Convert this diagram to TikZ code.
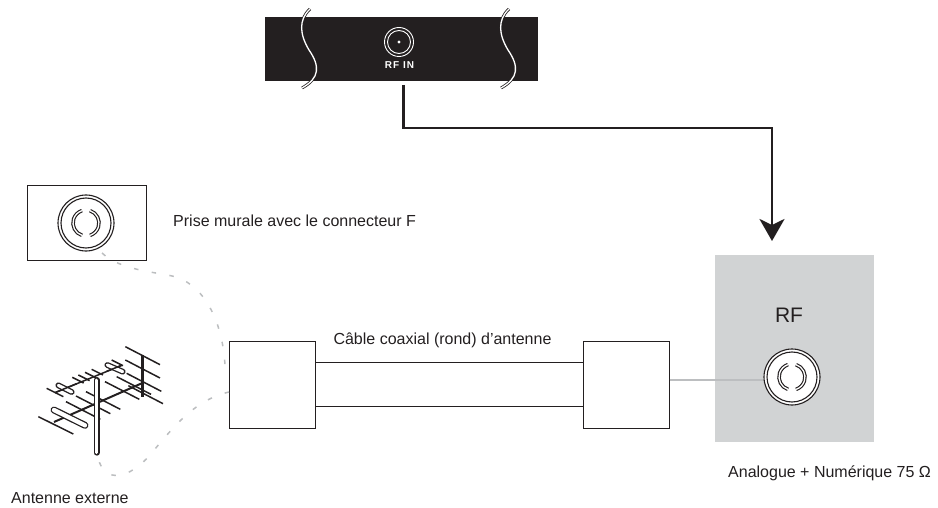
\documentclass[tikz,border=0pt]{standalone}
\usepackage{fontspec}
\setmainfont{Liberation Sans}
\usetikzlibrary{arrows.meta,calc}
\definecolor{panelgrey}{HTML}{D1D3D4}
\definecolor{wiregrey}{HTML}{BCBEC0}
\definecolor{boxblack}{HTML}{231F20}
\tikzset{
  lbl/.style={font=\fontsize{16}{18}\selectfont,inner sep=0pt,anchor=base west,text=boxblack},
  cablebox/.style={draw=boxblack,line width=1.1pt,fill=white,inner sep=0pt,anchor=north west,minimum width=85.5pt,minimum height=87pt},
  wirelink/.style={draw=wiregrey,line width=1.5pt,dash pattern=on 4.5pt off 13.5pt},
  ant/.style={draw=boxblack,line width=1.5pt,line cap=butt},
  thinline/.style={draw=boxblack,line width=1.05pt}
}
\newcommand{\jack}[2]{%
  \fill[white] (#1,#2) circle (28);
  \draw[boxblack,line width=1.1pt] (#1,#2) circle (28);
  \draw[boxblack,line width=1.1pt] (#1,#2) circle (25);
  \foreach \a/\b in {108/252,-72/72}{
    \draw[boxblack,line width=3.6pt,line cap=butt] ($(#1,#2)+(\a:13)$) arc[start angle=\a,end angle=\b,radius=13];
    \draw[white,line width=1.3pt,line cap=butt] ($(#1,#2)+(\a:13)$) arc[start angle=\a,end angle=\b,radius=13];
  }
}
\newcommand{\stadium}[6]{%
  \draw[boxblack,line width=#5pt,line cap=round] (#1,#2) -- (#3,#4);
  \draw[white,line width=#6pt,line cap=round] (#1,#2) -- (#3,#4);
}
\begin{document}
\begin{tikzpicture}[x=1pt,y=-1pt]
\useasboundingbox (0,0) rectangle (938,508);
% tuner panel
\node[fill=boxblack,inner sep=0pt,anchor=north west,minimum width=273pt,minimum height=64pt] (panel) at (265,17) {};
\foreach \x in {0,199}{
  \begin{scope}[xshift=\x pt]
  \draw[boxblack,line width=2.9pt] (310,9) .. controls (298,20) and (300,35) .. (309,50) .. controls (320,66) and (320,78) .. (302,88);
  \draw[white,line width=1.3pt] (310,9) .. controls (298,20) and (300,35) .. (309,50) .. controls (320,66) and (320,78) .. (302,88);
  \end{scope}
}
\draw[white,line width=.9pt] (399,42) circle (14.5);
\draw[white,line width=.9pt] (399,42) circle (11.5);
\fill[white] (399,42) circle (1.6);
\node[font=\bfseries\fontsize{10}{11}\selectfont\addfontfeature{LetterSpace=10},text=white,inner sep=0pt] (rfin) at (399.5,65) {RF IN};
\coordinate (rfstart) at (403.5,85);
% RF panel
\node[fill=panelgrey,inner sep=0pt,anchor=north west,minimum width=159pt,minimum height=187pt] (rfpanel) at (715,255) {};
\coordinate (rfend) at (772,241);
\draw[boxblack,line width=2.8pt,-{Stealth[length=22pt,width=25pt,inset=6pt]}] (rfstart) |- (772,128) -- (rfend);
\node[font=\fontsize{21}{24}\selectfont,text=boxblack,inner sep=0pt] (rflabel) at (789,315) {RF};
% cable
\node[cablebox] (cableL) at (229,341) {};
\node[cablebox] (cableR) at (583,341) {};
\draw[thinline] (cableL.east |- 0,362.7) -- (cableR.west |- 0,362.7);
\draw[thinline] (cableL.east |- 0,406.7) -- (cableR.west |- 0,406.7);
\node[font=\fontsize{16}{18}\selectfont,text=boxblack,inner sep=0pt] (cablelabel) at (442.5,340) {Câble coaxial (rond) d’antenne};
\coordinate (rfjack) at (764,380);
\draw[wiregrey,line width=1.5pt] (cableR.east |- rfjack) -- (rfjack);
\jack{792}{377}
% wall outlet
\node[draw=boxblack,line width=1.3pt,fill=white,inner sep=0pt,anchor=north west,minimum width=119pt,minimum height=75pt] (wall) at (27,185) {};
\jack{86}{223}
\node[lbl] (walllabel) at (173,226) {Prise murale avec le connecteur F};
% dashed links
\coordinate (wallEnd) at (102,253);
\coordinate (antEnd) at (98,458);
\draw[wirelink] (wallEnd) .. controls (120,270) and (155,272) .. (172,276) .. controls (200,282) and (222,315) .. (225,365);
\draw[wirelink] (cableL.west |- 0,392) .. controls (195,400) and (175,425) .. (150,455) .. controls (130,478) and (105,485) .. (antEnd);
% antenna
\begin{scope}[x=1/3*1pt,y=-1/3*1pt,yshift=-320pt]
  \draw[ant,line width=2pt] (162,306) -- (425,190);
  \draw[ant] (165,218) -- (365,136);
  \foreach \a/\b in {376/80,376/120,380/160,385/197}{
    \draw[ant] (\a,\b) -- ++(104,54);
  }
  \draw[ant] (115,290) -- ++(105,52);
  \stadium{162}{270}{255}{316}{6.9}{4.3}
  \foreach \a/\b in {198/245,228/228,258/215,315/185,350/170}{
    \draw[ant] (\a,\b) -- ++(103,53);
  }
  \foreach \a/\b in {217/172,235/165,255/157,275/148,335/120}{
    \draw[ant] (\a,\b) -- ++(34,17);
  }
  \draw[ant] (140,205) -- ++(50,25);
  \stadium{175}{196}{215}{216}{5.8}{3.2}
  \stadium{322}{135}{368}{155}{5.8}{3.2}
  \draw[ant] (165,218) -- (230,191);
  \draw[ant] (320,154) -- (365,136);
  \draw[ant,line width=3pt] (428,105) -- (428,230);
  \stadium{290}{180}{290}{398}{6}{3}
\end{scope}
\node[lbl] (antlabel) at (11,503) {Antenne externe};
\node[lbl] (rflabeltwo) at (728,477) {Analogue + Numérique 75 Ω};
\end{tikzpicture}
\end{document}
